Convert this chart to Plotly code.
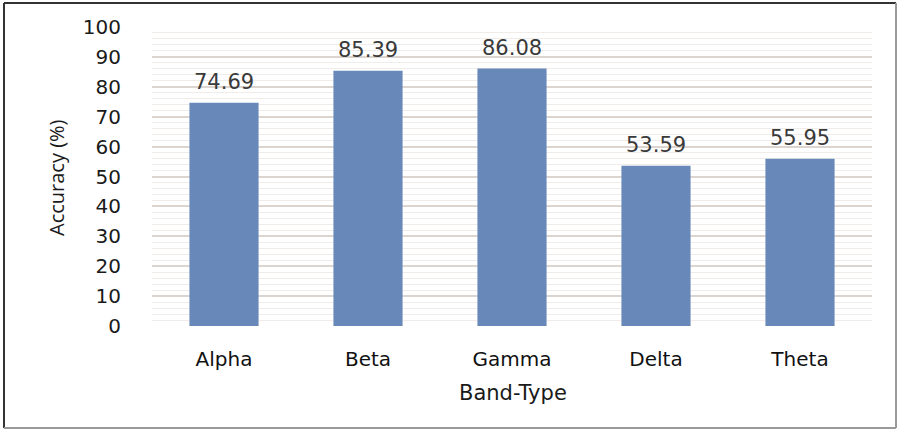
import plotly.graph_objects as go

# Classification accuracy per EEG frequency band
bands = ["Alpha", "Beta", "Gamma", "Delta", "Theta"]
accuracy = [74.69, 85.39, 86.08, 53.59, 55.95]
y_ticks = list(range(0, 101, 10))

W, H = 898, 430
ML, MR, MT, MB = 152, 26, 27, 104
PW, PH = W - ML - MR, H - MT - MB

BAR = "#6788b9"
FONT = "DejaVu Sans"

fig = go.Figure(
    go.Bar(
        x=bands,
        y=accuracy,
        marker=dict(color=BAR, line=dict(width=0)),
        width=0.48,
        hoverinfo="skip",
    )
)

# value labels above each bar
for b, v in zip(bands, accuracy):
    fig.add_annotation(
        x=b, y=v, text=f"{v:.2f}", showarrow=False,
        yanchor="bottom", yshift=7,
        font=dict(family=FONT, size=21, color="#3a3a3a"),
    )


def px(x):
    return (x - ML) / PW


def py(y):
    return (MT + PH - y) / PH


# axis titles
fig.add_annotation(
    xref="paper", yref="paper", x=px(56), y=py(178),
    xanchor="center", yanchor="middle",
    text="Accuracy (%)", textangle=-90, showarrow=False,
    font=dict(family="Open Sans", size=20, color="#1a1a1a"),
)
fig.add_annotation(
    xref="paper", yref="paper", x=px(513), y=py(393),
    xanchor="center", yanchor="middle",
    text="Band-Type", showarrow=False,
    font=dict(family=FONT, size=21, color="#1a1a1a"),
)

# outer frame
frame = [
    (4, 3, 4, 428, "#333333"),
    (4, 3, 896, 3, "#333333"),
    (896, 3, 896, 428, "#9a9a9a"),
    (4, 428, 896, 428, "#9a9a9a"),
]
for x0, y0, x1, y1, c in frame:
    fig.add_shape(
        type="line", xref="paper", yref="paper",
        x0=px(x0), y0=py(y0), x1=px(x1), y1=py(y1),
        line=dict(color=c, width=2),
    )

fig.update_layout(
    width=W, height=H,
    margin=dict(l=ML, r=MR, t=MT, b=MB),
    paper_bgcolor="white", plot_bgcolor="white",
    showlegend=False,
    bargap=0.52,
    xaxis=dict(
        showline=False, showgrid=False, zeroline=False,
        ticks="outside", ticklen=0, ticklabelstandoff=15,
        tickfont=dict(family=FONT, size=20, color="#111111"),
    ),
    yaxis=dict(
        range=[0, 100], tickvals=y_ticks,
        showline=False, zeroline=False,
        showgrid=True, gridcolor="#dcd5cf", gridwidth=1.5,
        minor=dict(dtick=2, showgrid=True, gridcolor="#f0ece9", gridwidth=1),
        ticks="outside", ticklen=0, ticklabelstandoff=26,
        tickfont=dict(family=FONT, size=20, color="#1a1a1a"),
    ),
)

fig.write_html("out.html")
